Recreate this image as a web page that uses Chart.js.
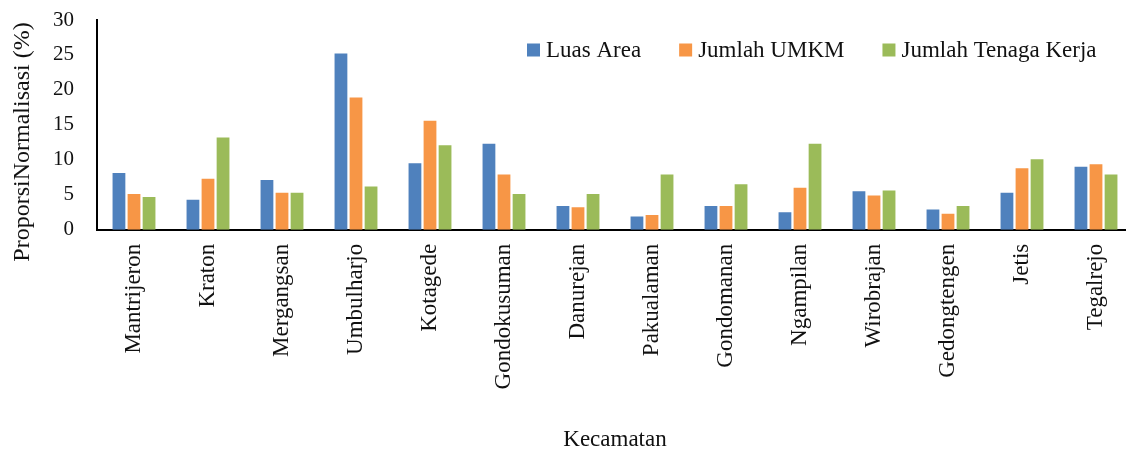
<!DOCTYPE html>
<html>
<head>
<meta charset="utf-8">
<script src="https://cdn.jsdelivr.net/npm/chart.js@4/dist/chart.umd.min.js"></script>
<style>
  html, body { margin: 0; padding: 0; background: #fff; overflow: hidden; }
  #wrap { width: 1133px; height: 452px; }
</style>
</head>
<body>
<div id="wrap"><canvas id="c" width="1133" height="452"></canvas></div>
<script>
// Kecamatan di Kota Yogyakarta
const categories = [
  'Mantrijeron', 'Kraton', 'Mergangsan', 'Umbulharjo', 'Kotagede',
  'Gondokusuman', 'Danurejan', 'Pakualaman', 'Gondomanan', 'Ngampilan',
  'Wirobrajan', 'Gedongtengen', 'Jetis', 'Tegalrejo'
];

// Proporsi ternormalisasi (%)
const luasArea          = [8.1, 4.3, 7.1, 25.2, 9.5, 12.3, 3.4, 1.9, 3.4, 2.5, 5.5, 2.9, 5.3, 9.0];
const jumlahUmkm        = [5.1, 7.3, 5.3, 18.9, 15.6, 7.9, 3.2, 2.1, 3.4, 6.0, 4.9, 2.3, 8.8, 9.35];
const jumlahTenagaKerja = [4.7, 13.2, 5.3, 6.2, 12.1, 5.1, 5.1, 7.9, 6.5, 12.3, 5.6, 3.4, 10.1, 7.9];

const seriesNames = ['Luas Area', 'Jumlah UMKM', 'Jumlah Tenaga Kerja'];
const seriesColors = ['#4F81BD', '#F79646', '#9BBB59'];

const yMin = 0, yMax = 30, yStep = 5;
const yTitle = 'ProporsiNormalisasi (%)';
const xTitle = 'Kecamatan';

const FONT = '"Liberation Serif", "Times New Roman", serif';

// Legend drawn over the top of the plot area
const insetLegend = {
  id: 'insetLegend',
  afterDraw(chart) {
    const ctx = chart.ctx;
    ctx.save();
    ctx.font = '23px ' + FONT;
    ctx.textBaseline = 'middle';
    ctx.textAlign = 'left';
    let x = 527;
    const yc = 50;
    chart.data.datasets.forEach(ds => {
      ctx.fillStyle = ds.backgroundColor;
      ctx.fillRect(x, yc - 6.5, 13, 13);
      ctx.fillStyle = '#111';
      ctx.fillText(ds.label, x + 19, yc + 1);
      x += 19 + ctx.measureText(ds.label).width + 38;
    });
    ctx.restore();
  }
};

// Vertical axis title
const yAxisTitle = {
  id: 'yAxisTitle',
  afterDraw(chart) {
    const ctx = chart.ctx;
    ctx.save();
    ctx.font = '24px ' + FONT;
    ctx.fillStyle = '#111';
    ctx.textAlign = 'center';
    ctx.textBaseline = 'middle';
    ctx.translate(23, 142);
    ctx.rotate(-Math.PI / 2);
    ctx.fillText(yTitle, 0, 0);
    ctx.restore();
  }
};

new Chart(document.getElementById('c'), {
  type: 'bar',
  data: {
    labels: categories,
    datasets: [luasArea, jumlahUmkm, jumlahTenagaKerja].map((vals, i) => ({
      label: seriesNames[i],
      data: vals,
      backgroundColor: seriesColors[i],
      borderWidth: 0,
      categoryPercentage: 0.61,
      barPercentage: 0.85
    }))
  },
  options: {
    responsive: false,
    animation: false,
    devicePixelRatio: 1,
    layout: { padding: { left: 30, right: 0, top: 0, bottom: 0 } },
    plugins: {
      legend: { display: false },
      tooltip: { enabled: false }
    },
    scales: {
      x: {
        grid: { display: false, drawTicks: false },
        border: { display: true, color: '#000', width: 2 },
        ticks: {
          autoSkip: false,
          maxRotation: 90,
          minRotation: 90,
          padding: 14,
          color: '#111',
          font: { family: FONT, size: 23 }
        },
        title: {
          display: true,
          text: xTitle,
          color: '#111',
          font: { family: FONT, size: 23, lineHeight: 1.2 },
          padding: { top: 23, bottom: -2 }
        },
        afterFit(scale) {
          scale.paddingLeft = 0;
          scale.paddingRight = 0;
        }
      },
      y: {
        min: yMin,
        max: yMax,
        grid: { display: false, drawTicks: false },
        border: { display: true, color: '#000', width: 2 },
        ticks: {
          stepSize: yStep,
          padding: 23,
          color: '#111',
          font: { family: FONT, size: 21 }
        },
        afterFit(scale) {
          scale.paddingTop = 20;
          scale.paddingBottom = 12;
        }
      }
    }
  },
  plugins: [insetLegend, yAxisTitle]
});
</script>
</body>
</html>
